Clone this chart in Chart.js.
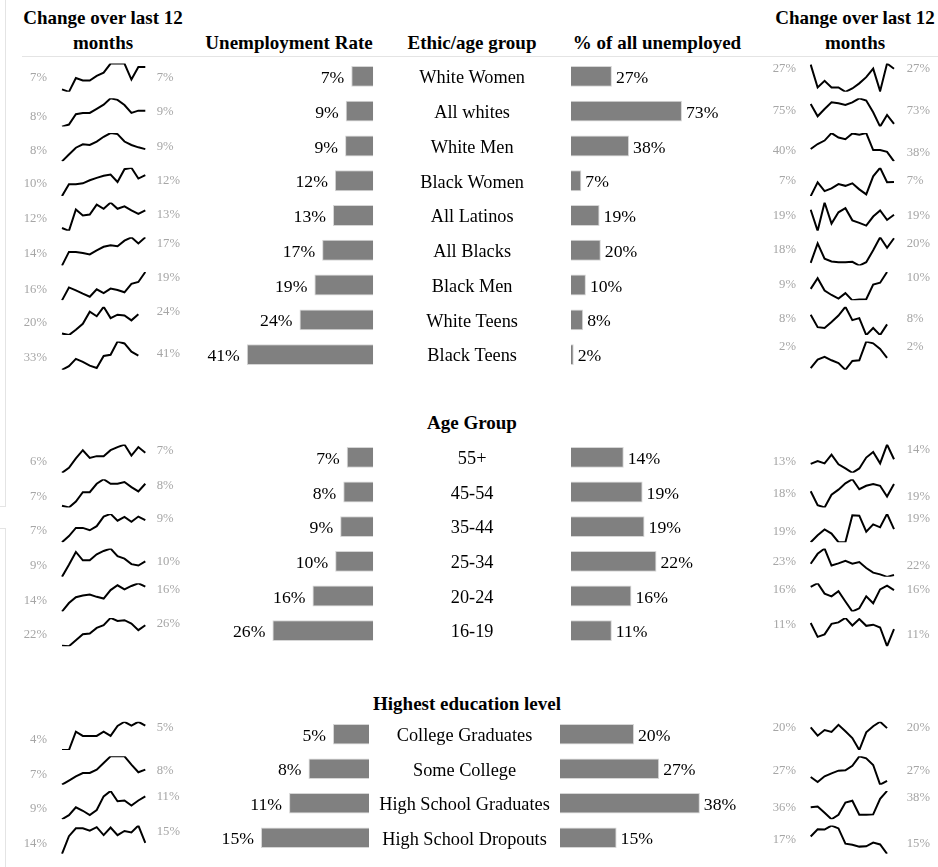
<!DOCTYPE html>
<html><head><meta charset="utf-8">
<script src="https://cdn.jsdelivr.net/npm/chart.js@4.4.1/dist/chart.umd.min.js"></script>
<style>
html,body{margin:0;padding:0;background:#fff;}
#page{position:relative;width:938px;height:867px;overflow:hidden;font-family:"Liberation Serif","Times New Roman",serif;}
.hdr{position:absolute;font-weight:bold;font-size:19px;line-height:25px;text-align:center;color:#000;white-space:nowrap;}
canvas{position:absolute;}
.rule{position:absolute;background:#e4e4e4;}
</style></head><body><div id="page"></div>
<script>
// ---------------- DATA ----------------
const months = ['M-12','M-11','M-10','M-9','M-8','M-7','M-6','M-5','M-4','M-3','M-2','M-1','M0'];

const ethnicGroups = ['White Women','All whites','White Men','Black Women','All Latinos','All Blacks','Black Men','White Teens','Black Teens'];
const ethnicRate  = [7.1, 8.9, 9.1, 12.4, 13.0, 16.5, 19.0, 23.8, 40.8];
const ethnicShare = [26.9, 73.0, 38.2, 6.8, 18.8, 19.6, 9.8, 8.0, 1.8];

const ageGroups = ['55+','45-54','35-44','25-34','20-24','16-19'];
const ageRate  = [6.9, 7.8, 8.6, 9.9, 15.8, 26.2];
const ageShare = [13.7, 18.6, 19.1, 22.2, 15.7, 10.6];

const eduGroups = ['College Graduates','Some College','High School Graduates','High School Dropouts'];
const eduRate  = [5.0, 8.4, 11.1, 15.0];
const eduShare = [20.0, 26.8, 37.8, 15.3];

// monthly unemployment rate over last 12 months (%)
const ethnicRateTrend = [
  [6.58,6.50,6.94,6.86,6.86,7.01,7.11,7.40,7.40,7.40,6.89,7.29,7.29],
  [7.90,7.98,8.38,8.43,8.43,8.59,8.75,9.00,8.94,8.74,8.43,8.52,8.52],
  [7.60,8.13,8.66,8.92,8.87,9.14,9.51,9.80,9.72,9.14,8.87,8.69,8.55],
  [10.00,11.04,11.04,11.13,11.40,11.61,11.79,11.91,11.25,12.38,12.50,11.55,11.85],
  [11.76,11.60,12.81,12.47,12.52,13.08,12.85,13.20,12.85,12.99,12.76,12.56,12.76],
  [13.60,15.34,15.34,15.21,15.03,15.55,15.99,16.20,16.07,16.77,17.20,16.42,17.20],
  [15.80,17.35,16.99,16.60,16.24,17.13,16.68,17.21,17.04,16.77,17.79,18.01,19.20],
  [20.09,19.80,20.81,21.96,24.27,23.40,25.20,23.04,23.69,23.54,22.61,23.76],
  [33.00,35.13,39.19,37.48,35.35,34.07,40.89,41.53,49.00,47.93,43.24,41.11]
];
// monthly share of all unemployed (%)
const ethnicShareTrend = [
  [27.34,26.05,26.42,26.05,26.05,25.80,25.99,26.28,26.63,27.11,25.84,27.40,27.11],
  [74.98,73.63,74.43,75.16,75.05,74.87,75.16,75.60,75.35,74.07,72.50,73.78,72.79],
  [39.80,40.62,41.18,42.40,41.68,41.40,42.34,42.12,42.40,39.63,39.63,39.35,37.80],
  [6.60,6.99,6.74,6.82,6.94,6.89,6.96,6.79,6.65,7.16,7.40,6.99,7.00],
  [19.36,18.20,19.76,18.60,19.22,19.45,18.78,18.64,18.49,18.99,19.32,18.80,19.09],
  [17.85,19.64,18.23,17.98,17.91,17.91,17.95,17.60,17.91,19.01,20.20,19.23,20.11],
  [9.33,10.01,9.22,8.94,8.71,9.06,8.60,8.65,8.67,9.60,9.72,10.40],
  [8.32,7.88,7.85,8.06,8.29,8.60,8.13,8.20,7.60,7.85,7.60,7.98],
  [1.65,1.89,1.97,1.87,1.79,1.60,1.85,1.87,2.40,2.35,2.19,1.94]
];
const ageRateTrend = [
  [6.00,6.18,6.51,6.80,6.53,6.59,6.59,6.80,6.91,7.00,6.61,6.91,6.71],
  [7.16,7.10,7.31,7.64,7.64,7.94,8.10,7.94,7.94,8.00,7.82,7.67,7.94],
  [7.20,7.59,8.11,8.11,7.96,8.22,8.83,9.00,8.57,8.81,8.50,8.83,8.61],
  [8.80,9.65,10.56,9.97,9.97,10.39,10.63,10.80,10.26,10.09,9.70,9.60,9.90],
  [13.80,14.58,15.12,15.27,15.37,15.15,14.99,15.77,16.21,15.84,16.15,16.40,16.09],
  [22.06,22.00,23.06,24.12,24.24,25.24,25.71,27.00,26.47,26.59,26.00,24.83,25.71]
];
const ageShareTrend = [
  [13.23,13.44,13.27,13.88,13.20,12.91,12.60,12.91,13.68,14.07,13.27,14.60,13.56],
  [18.46,17.39,17.20,18.19,18.59,19.08,19.40,18.62,18.89,19.02,18.89,18.06,19.02],
  [18.50,18.89,19.22,18.99,18.50,18.50,20.02,20.00,19.09,19.51,19.34,20.10,19.24],
  [23.10,24.08,24.60,22.92,23.13,23.38,23.10,23.27,22.68,22.22,22.05,21.80,21.98],
  [16.20,16.40,15.81,15.66,15.95,15.37,14.80,14.98,15.66,15.27,16.05,16.26,16.01],
  [11.22,10.73,10.82,11.19,11.24,11.40,11.13,11.36,11.12,11.16,11.06,10.40,11.00]
];
const eduRateTrend = [
  [4.20,4.20,4.59,4.50,4.50,4.50,4.59,4.50,4.71,4.80,4.72,4.80,4.72],
  [7.20,7.43,7.67,7.86,7.86,8.05,8.42,8.80,8.80,8.80,8.33,7.90,8.05],
  [9.00,9.35,10.01,9.72,9.35,9.78,10.94,11.40,10.53,10.59,10.16,10.59,10.94],
  [13.60,15.10,15.77,15.77,15.57,15.86,15.19,15.83,15.19,15.54,15.42,16.00,14.53]
];
const eduShareTrend = [
  [20.16,19.81,20.05,19.97,20.27,20.00,19.71,19.20,19.95,20.21,20.40,20.13],
  [27.03,26.75,27.07,27.24,27.39,27.41,27.67,28.20,28.09,27.71,26.60,26.81],
  [36.37,36.45,35.73,35.00,35.51,36.88,37.09,35.51,35.51,35.55,37.30,38.20],
  [17.00,17.83,17.79,18.25,17.92,16.17,16.04,15.83,15.87,16.29,16.08,15.00]
];

// ---------------- LAYOUT ----------------
const sections = [
  {cats:ethnicGroups, rate:ethnicRate, share:ethnicShare, rateTrend:ethnicRateTrend, shareTrend:ethnicShareTrend,
   c0:76, pitch:34.75, rateRight:373.3, shareLeft:571, ratePx:3.1, sharePx:1.52,
   lsDy:[0,4,3,2,2,2,3,2,2], leDy:[0,-1,-1,-1,-2,-8,-9,-9,-2],
   rsDy:[-9,-2,3,-1,-1,-2,-2,-2,-9], reDy:[-9,-2,5,-1,-1,-8,-9,-2,-9]},
  {cats:ageGroups, rate:ageRate, share:ageShare, rateTrend:ageRateTrend, shareTrend:ageShareTrend,
   c0:457, pitch:34.67, rateRight:373.3, shareLeft:571, ratePx:3.85, sharePx:3.85,
   lsDy:[3,3,3,3,3,3], leDy:[-8,-8,-9,-1,-8,-8],
   rsDy:[3,0,4,-1,-8,-7], reDy:[-9,3,-9,3,-8,3]},
  {cats:eduGroups, rate:eduRate, share:eduShare, rateTrend:eduRateTrend, shareTrend:eduShareTrend,
   c0:734.2, pitch:34.6, rateRight:369, shareLeft:560, ratePx:7.2, sharePx:3.7,
   lsDy:[4,4,4,4], leDy:[-8,0,-8,-8],
   rsDy:[-8,0,3,0], reDy:[-8,0,-7,4]}
];

const SERIF = '"Liberation Serif","Times New Roman",serif';
const page = document.getElementById('page');

function addDiv(cls, x, y, w, h, html){
  const d = document.createElement('div'); d.className = cls;
  d.style.left = x+'px'; d.style.top = y+'px';
  if (w != null) d.style.width = w+'px';
  if (h != null) d.style.height = h+'px';
  if (html != null) d.innerHTML = html;
  page.appendChild(d); return d;
}
function addCanvas(x, y, w, h){
  const c = document.createElement('canvas');
  c.width = w; c.height = h;
  c.style.left = x+'px'; c.style.top = y+'px';
  c.style.width = w+'px'; c.style.height = h+'px';
  page.appendChild(c); return c;
}

// headers and faint frame lines
addDiv('hdr', 3, 5, 200, null, 'Change over last 12<br>months');
addDiv('hdr', 189, 30, 200, null, 'Unemployment Rate');
addDiv('hdr', 372, 30, 200, null, 'Ethic/age group');
addDiv('hdr', 557, 30, 200, null, '% of all unemployed');
addDiv('hdr', 755, 5, 200, null, 'Change over last 12<br>months');
addDiv('hdr', 372, 410, 200, null, 'Age Group');
addDiv('hdr', 317, 691, 300, null, 'Highest education level');
addDiv('rule', 22, 56, 916, 1);
addDiv('rule', 5, 0, 1, 507);
addDiv('rule', 0, 506, 6, 1);
addDiv('rule', 0, 528, 6, 1);
addDiv('rule', 5, 528, 1, 339);

const baseOpts = {
  responsive:false, animation:false, events:[], devicePixelRatio:1,
  plugins:{legend:{display:false}, tooltip:{enabled:false}, title:{display:false}}
};

function spark(x, w, top, pl, pr, pt, pb, data, gapL, gapR, dyS, dyE){
  const lbl = {
    id:'sparkLabels',
    afterDraw(chart){
      const ctx = chart.ctx, a = chart.chartArea, d = chart.data.datasets[0].data;
      const cy = (a.top + a.bottom) / 2;
      ctx.save();
      ctx.font = '12.7px ' + SERIF; ctx.fillStyle = '#a6a6a6'; ctx.textBaseline = 'middle';
      ctx.textAlign = 'right';
      ctx.fillText(Math.round(d[0]) + '%', a.left - gapL, cy + dyS);
      ctx.textAlign = 'left';
      ctx.fillText(Math.round(d[d.length - 1]) + '%', a.right + gapR, cy + dyE);
      ctx.restore();
    }
  };
  new Chart(addCanvas(x, top, w, 34), {
    type:'line',
    data:{labels:months, datasets:[{data:data, borderColor:'#000', borderWidth:2, pointRadius:0, fill:false, tension:0}]},
    options:Object.assign({}, baseOpts, {
      layout:{padding:{left:pl, right:pr, top:pt, bottom:pb}},
      scales:{x:{display:false}, y:{display:false, min:Math.min(...data), max:Math.max(...data)}}
    }),
    plugins:[lbl]
  });
}

sections.forEach(s => {
  const n = s.cats.length;
  const top = Math.round(s.c0 - s.pitch/2);
  const h = Math.round(n * s.pitch);

  // ---- unemployment rate bars (grow leftwards) ----
  const rLeft = 150;
  const rW = s.shareLeft - rLeft;
  const rArea = s.rateRight - rLeft;
  const rateLabels = {
    id:'rateLabels',
    afterDatasetsDraw(chart){
      const ctx = chart.ctx, meta = chart.getDatasetMeta(0), a = chart.chartArea;
      ctx.save();
      ctx.fillStyle = '#000'; ctx.textBaseline = 'middle';
      ctx.font = '17.7px ' + SERIF; ctx.textAlign = 'right';
      meta.data.forEach((el,i) => ctx.fillText(Math.round(chart.data.datasets[0].data[i]) + '%', el.x - 7, el.y + 2));
      ctx.font = '18.3px ' + SERIF; ctx.textAlign = 'center';
      const cx = (a.right + chart.width) / 2;
      meta.data.forEach((el,i) => ctx.fillText(chart.data.labels[i], cx, el.y + 2));
      ctx.restore();
    }
  };
  new Chart(addCanvas(rLeft, top, rW, h), {
    type:'bar',
    data:{labels:s.cats, datasets:[{data:s.rate, backgroundColor:'#808080', borderColor:'#d6d6d6', borderWidth:1, barPercentage:0.6, categoryPercentage:1}]},
    options:Object.assign({}, baseOpts, {
      indexAxis:'y',
      layout:{padding:{left:0, right:rW - rArea, top:0, bottom:0}},
      scales:{x:{display:false, reverse:true, min:0, max:rArea / s.ratePx}, y:{display:false}}
    }),
    plugins:[rateLabels]
  });

  // ---- share of all unemployed bars ----
  const sW = 210;
  const shareLabels = {
    id:'shareLabels',
    afterDatasetsDraw(chart){
      const ctx = chart.ctx, meta = chart.getDatasetMeta(0);
      ctx.save();
      ctx.fillStyle = '#000'; ctx.textBaseline = 'middle';
      ctx.font = '17.7px ' + SERIF; ctx.textAlign = 'left';
      meta.data.forEach((el,i) => ctx.fillText(Math.round(chart.data.datasets[0].data[i]) + '%', el.x + 4, el.y + 2));
      ctx.restore();
    }
  };
  new Chart(addCanvas(s.shareLeft, top, sW, h), {
    type:'bar',
    data:{labels:s.cats, datasets:[{data:s.share, backgroundColor:'#808080', borderColor:'#d6d6d6', borderWidth:1, barPercentage:0.6, categoryPercentage:1}]},
    options:Object.assign({}, baseOpts, {
      indexAxis:'y',
      layout:{padding:0},
      scales:{x:{display:false, min:0, max:sW / s.sharePx}, y:{display:false}}
    }),
    plugins:[shareLabels]
  });

  // ---- sparklines ----
  for (let i = 0; i < n; i++) {
    const sc = s.c0 + i * s.pitch + 1.7;
    const ctop = Math.round(sc - 17);
    const padTop = (sc - 14.15) - ctop;
    const padBottom = 34 - padTop - 28.3;
    spark(0, 190, ctop, 62, 190 - 145.3, padTop, padBottom, s.rateTrend[i], 15, 11.4, s.lsDy[i], s.leDy[i]);
    spark(760, 178, ctop, 50.7, 178 - 134, padTop, padBottom, s.shareTrend[i], 14.7, 12.7, s.rsDy[i], s.reDy[i]);
  }
});
</script>
</body></html>
